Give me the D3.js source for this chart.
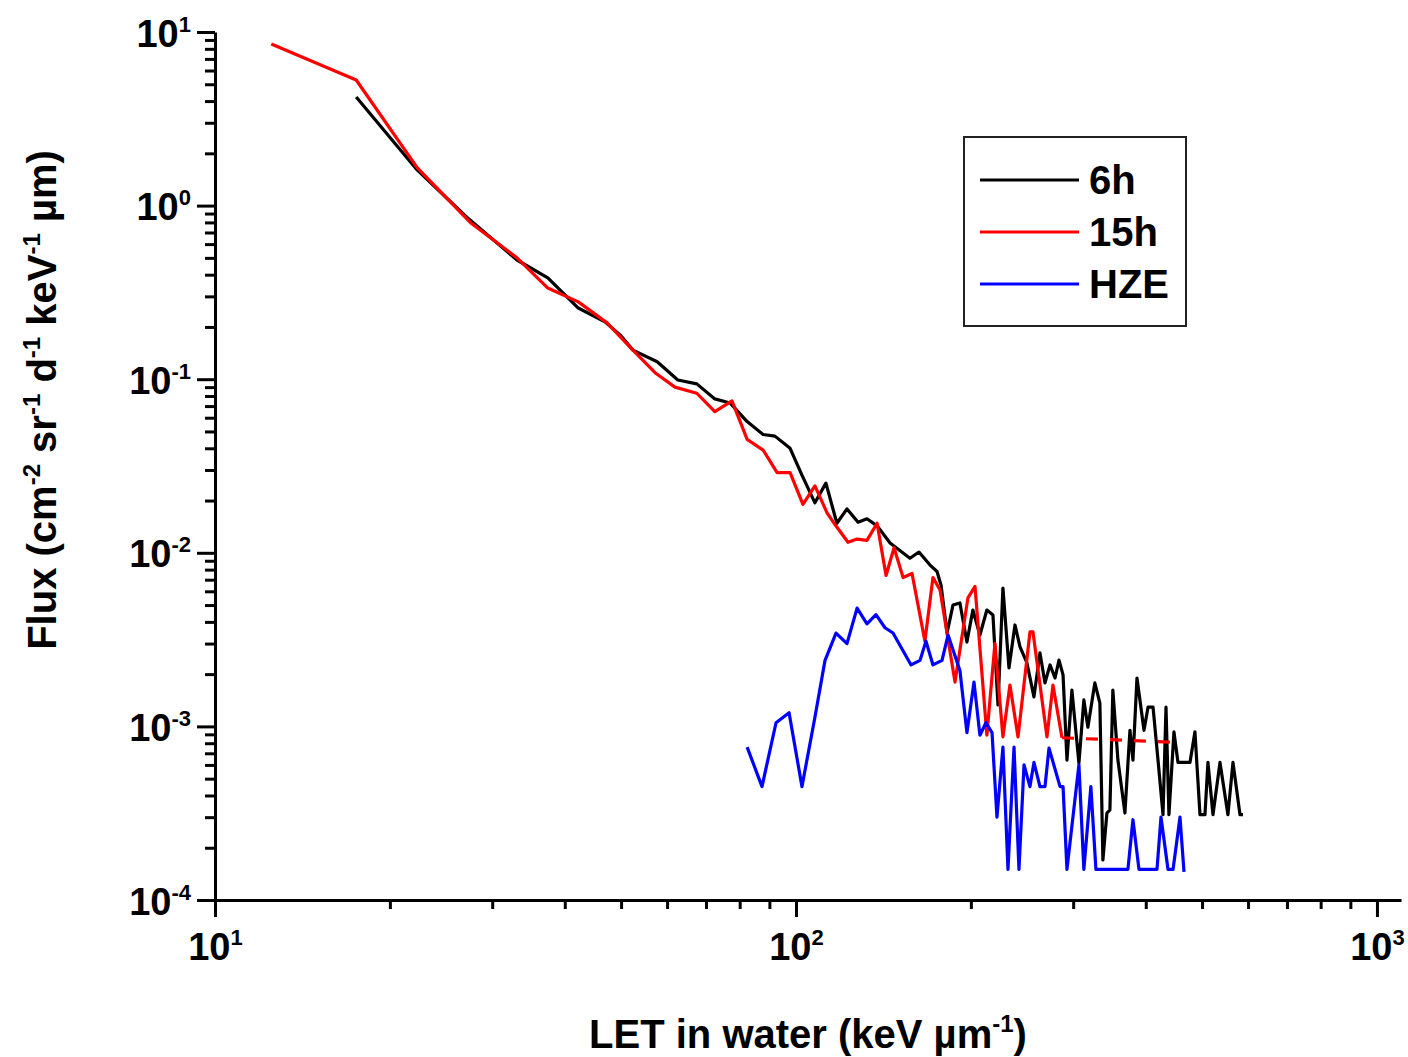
<!DOCTYPE html>
<html>
<head>
<meta charset="utf-8">
<script src="https://cdnjs.cloudflare.com/ajax/libs/d3/7.8.5/d3.min.js"></script>
<style>
  body { margin: 0; background: #fff; }
  svg { font-family: "Liberation Sans", Arial, sans-serif; font-weight: bold; }
</style>
</head>
<body>
<div id="chart"></div>
<script>
// ---- data (LET in keV/um, flux in cm-2 sr-1 d-1 keV-1 um) ----
var let6h = [17.5, 22.3, 27.1, 33.1, 37.4, 42.2, 46.9, 49.8, 52.4, 57.7, 62.6, 67.5, 72.5, 77.0,
  82.4, 87.8, 92.0, 97.7, 102.4, 107.8, 112.6, 117.6, 122.4, 127.9, 132.5, 137.9, 145.2, 157.1,
  162.8, 170.1, 174.9, 177.7, 182.0, 186.3, 191.5, 196.9, 201.6, 207.3, 213.1, 218.3, 222.7,
  227.1, 232.6, 238.2, 243.0, 249.8, 256.8, 263.0, 268.3, 273.7, 279.2, 283.6, 288.2, 292.7,
  298.5, 306.9, 313.0, 318.0, 326.9, 333.5, 337.5, 342.9, 347.0, 351.1, 358.2, 368.3, 375.7,
  380.2, 386.3, 397.2, 403.6, 411.7, 419.9, 428.3, 433.4, 438.5, 447.3, 454.5, 476.6, 486.1,
  495.9, 505.8, 511.8, 522.1, 536.8, 554.0, 565.2, 581.1, 588.0];
var flux6h = [4.22, 1.60, 0.86, 0.486, 0.383, 0.257, 0.214, 0.18, 0.147, 0.126, 0.099, 0.094, 0.077, 0.073,
  0.057, 0.048, 0.047, 0.040, 0.028, 0.0194, 0.0252, 0.0148, 0.0179, 0.0150, 0.0157, 0.0143, 0.0114, 0.0093,
  0.0101, 0.0085, 0.0078, 0.0065, 0.00345, 0.0050, 0.00514, 0.00306, 0.00468, 0.00336, 0.00468, 0.00438, 0.00133,
  0.00627, 0.00217, 0.00384, 0.00287, 0.00232, 0.00148, 0.00265, 0.00178, 0.00226, 0.00190, 0.00241, 0.00198, 0.00064,
  0.00162, 0.000615, 0.00142, 0.00099, 0.00178, 0.00136, 0.00017, 0.000317, 0.00033, 0.00162, 0.00064, 0.000317, 0.00095,
  0.00064, 0.0019, 0.00095, 0.00129, 0.00129, 0.00064, 0.00031, 0.00129, 0.00031, 0.00093, 0.00062, 0.00062, 0.00093,
  0.00031, 0.00031, 0.00062, 0.00031, 0.00062, 0.00031, 0.00062, 0.00031, 0.00031];

var let15h = [12.5, 17.5, 22.3, 27.5, 33.1, 37.4, 42.2, 47.3, 52.4, 57.2, 61.9, 67.5, 72.5, 77.6,
  82.4, 87.8, 92.8, 97.7, 102.8, 107.8, 113.1, 116.8, 122.9, 127.4, 132.5, 137.9, 142.9, 147.5,
  152.9, 158.4, 166.7, 172.1, 177.0, 187.8, 197.7, 203.3, 213.1, 220.0, 227.1, 233.5, 241.1,
  252.8, 255.8, 270.4, 276.9, 287.0];
var flux15h = [8.53, 5.29, 1.65, 0.80, 0.50, 0.335, 0.279, 0.211, 0.147, 0.109, 0.090, 0.083, 0.065, 0.075,
  0.045, 0.039, 0.029, 0.029, 0.019, 0.0243, 0.0170, 0.0145, 0.0115, 0.0120, 0.0118, 0.0148, 0.0074, 0.0107,
  0.0072, 0.0076, 0.0031, 0.0072, 0.0061, 0.0018, 0.0055, 0.0064, 0.00089, 0.0030, 0.00087, 0.00173, 0.00087,
  0.0035, 0.0035, 0.00087, 0.00173, 0.00086];
// dashed tail of the 15h curve
var let15hTail = [287.0, 449.1];
var flux15hTail = [0.00086, 0.00081];

var letHZE = [82.4, 87.4, 92.4, 97.3, 102.4, 107.8, 112.2, 117.2, 122.4, 127.4, 132.5, 137.3, 142.3,
  146.9, 157.8, 163.5, 167.4, 172.1, 178.4, 182.7, 191.5, 196.9, 202.5, 207.3, 212.3, 217.5, 221.8,
  227.1, 231.7, 237.3, 242.0, 246.9, 252.8, 256.8, 263.0, 268.3, 272.6, 284.8, 288.2, 292.7, 306.9,
  313.0, 321.8, 328.3, 372.7, 380.2, 389.4, 418.2, 424.9, 436.9, 445.7, 458.1, 465.5];
var fluxHZE = [0.00076, 0.00045, 0.00105, 0.0012, 0.00045, 0.00113, 0.0024, 0.00345, 0.0030, 0.0048, 0.0039, 0.0044, 0.0037,
  0.00345, 0.00226, 0.0024, 0.0031, 0.00226, 0.0024, 0.00336, 0.0021, 0.00092, 0.0018, 0.00089, 0.00105, 0.00092, 0.0003,
  0.00076, 0.00015, 0.00076, 0.00015, 0.0006, 0.00045, 0.00062, 0.00045, 0.00045, 0.00075, 0.00045, 0.00045, 0.00015, 0.0006,
  0.00015, 0.00045, 0.00015, 0.00015, 0.00029, 0.00015, 0.00015, 0.0003, 0.00015, 0.00015, 0.0003, 0.000145];

var seriesNames = ["6h", "15h", "HZE"];
var seriesColors = ["#000000", "#ff0000", "#0000ff"];
var xMajorTicks = [10, 100, 1000];
var yMajorTicks = [1e-4, 1e-3, 1e-2, 1e-1, 1, 10];

// ---- layout ----
var margin = {top: 32, right: 7, bottom: 157, left: 215};
var width = 1408 - margin.left - margin.right;
var height = 1057 - margin.top - margin.bottom;

var svg = d3.select('#chart')
  .append('svg')
  .attr('width', 1408)
  .attr('height', 1057);

var chart = svg.append('g')
  .attr('transform', 'translate(' + margin.left + ',' + margin.top + ')');

var xScale = d3.scaleLog().domain([10, 1100]).range([0, width]);
var yScale = d3.scaleLog().domain([1e-4, 10]).range([height, 0]);

// minor ticks 2..9 in each decade
function minors(lo, hi) {
  var out = [];
  for (var p = lo; p < hi; p *= 10) {
    for (var k = 2; k <= 9; k++) out.push(k * p);
  }
  return out;
}

// ---- axes ----
var xMinorAxis = d3.axisBottom(xScale).tickValues(minors(10, 1000)).tickSize(9).tickFormat('');
var xAxis = d3.axisBottom(xScale).tickValues(xMajorTicks).tickSize(17).tickSizeOuter(0).tickFormat('');
var yMinorAxis = d3.axisLeft(yScale).tickValues(minors(1e-4, 10)).tickSize(10).tickFormat('');
var yAxis = d3.axisLeft(yScale).tickValues(yMajorTicks).tickSize(18).tickSizeOuter(0).tickFormat('');

var gxm = chart.append('g').attr('class', 'x minor').attr('transform', 'translate(0,' + height + ')').call(xMinorAxis);
gxm.select('.domain').remove();
var gym = chart.append('g').attr('class', 'y minor').call(yMinorAxis);
gym.select('.domain').remove();

var gx = chart.append('g').attr('class', 'x axis').attr('transform', 'translate(0,' + height + ')').call(xAxis);
var gy = chart.append('g').attr('class', 'y axis').call(yAxis);

chart.selectAll('.domain, .tick line').attr('stroke-width', 3);

function expLabel(sel, v) {
  var e = Math.round(Math.log10(v));
  sel.text(null);
  sel.append('tspan').text('10');
  sel.append('tspan').attr('dy', -15).attr('font-size', 22).text(e);
}

gx.attr('font-size', 38).attr('font-family', null);
gx.selectAll('.tick text')
  .attr('y', 60).attr('dy', null)
  .each(function(d) { expLabel(d3.select(this), d); });

gy.attr('font-size', 38).attr('font-family', null);
gy.selectAll('.tick text')
  .attr('x', -24).attr('y', 14).attr('dy', null)
  .each(function(d) { expLabel(d3.select(this), d); });

// ---- axis titles ----
var xt = svg.append('text')
  .attr('x', 808).attr('y', 1048)
  .attr('text-anchor', 'middle')
  .attr('font-size', 40);
xt.append('tspan').text('LET in water (keV \u00b5m');
xt.append('tspan').attr('dy', -16).attr('font-size', 24).text('-1');
xt.append('tspan').attr('dy', 16).text(')');

var yt = svg.append('text')
  .attr('transform', 'translate(56,400) rotate(-90)')
  .attr('text-anchor', 'middle')
  .attr('font-size', 40);
var yParts = [['Flux (cm', '-2'], [' sr', '-1'], [' d', '-1'], [' keV', '-1'], [' \u00b5m)', null]];
yParts.forEach(function(p, i) {
  yt.append('tspan').attr('dy', i === 0 ? 0 : 16).text(p[0]);
  if (p[1]) yt.append('tspan').attr('dy', -16).attr('font-size', 24).text(p[1]);
});

// ---- lines ----
var line = d3.line()
  .x(function(d) { return xScale(d[0]); })
  .y(function(d) { return yScale(d[1]); });

var series = [
  {data: d3.zip(let6h, flux6h), color: seriesColors[0], dash: null},
  {data: d3.zip(let15h, flux15h), color: seriesColors[1], dash: null},
  {data: d3.zip(let15hTail, flux15hTail), color: seriesColors[1], dash: '12,12'},
  {data: d3.zip(letHZE, fluxHZE), color: seriesColors[2], dash: null}
];

chart.selectAll('.series')
  .data(series)
  .enter()
  .append('path')
  .attr('class', 'series')
  .attr('d', function(d) { return line(d.data); })
  .attr('fill', 'none')
  .attr('stroke', function(d) { return d.color; })
  .attr('stroke-width', 3.2)
  .attr('stroke-linejoin', 'round')
  .attr('stroke-dasharray', function(d) { return d.dash; });

// ---- legend ----
var legend = svg.append('g').attr('transform', 'translate(964,137)');
legend.append('rect')
  .attr('width', 222).attr('height', 189)
  .attr('fill', '#fff').attr('stroke', '#222').attr('stroke-width', 2);

var items = legend.selectAll('.item')
  .data(seriesNames)
  .enter()
  .append('g')
  .attr('class', 'item')
  .attr('transform', function(d, i) { return 'translate(0,' + (43 + i * 52) + ')'; });
items.append('line')
  .attr('x1', 16).attr('x2', 115)
  .attr('stroke', function(d, i) { return seriesColors[i]; })
  .attr('stroke-width', 3);
items.append('text')
  .attr('x', 125).attr('y', 14)
  .attr('font-size', 40)
  .text(function(d) { return d; });
</script>
</body>
</html>
